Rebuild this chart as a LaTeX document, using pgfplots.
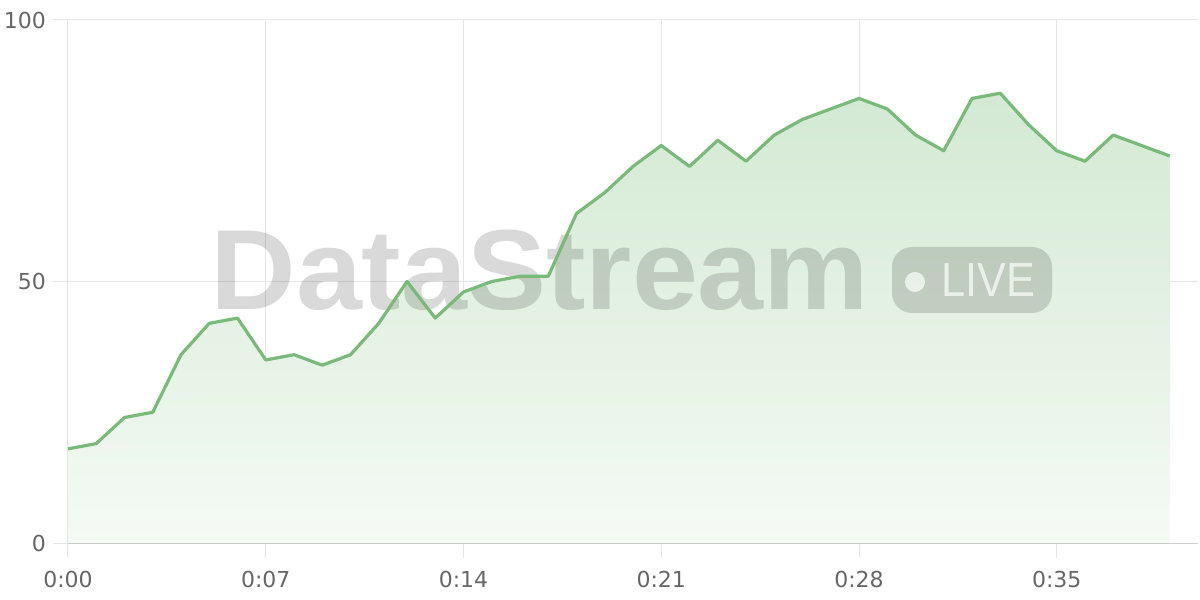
\documentclass[border=0pt]{standalone}
\usepackage{pgfplots}
\pgfplotsset{compat=1.18}
\usetikzlibrary{calc}
\usepackage{fontspec}
\setmainfont{Liberation Sans}
\newfontfamily\tickfont{DejaVu Sans}
\definecolor{linegreen}{HTML}{78BA78}
\definecolor{filltop}{HTML}{D3E9D3}
\definecolor{fillbot}{HTML}{F5FAF5}
\definecolor{gridc}{HTML}{E6E6E6}
\definecolor{axisc}{HTML}{CCCCCC}
\definecolor{labelc}{HTML}{666666}
\begin{document}
\begin{tikzpicture}
\useasboundingbox (-34pt,-28.5pt) rectangle (566pt,271.5pt);
\begin{axis}[
  at={(0,0)}, anchor=south west,
  width=565pt, height=261.5pt, scale only axis,
  xmin=0, xmax=40, ymin=0, ymax=100,
  xtick={0,7,14,21,28,35},
  xticklabels={0:00,0:07,0:14,0:21,0:28,0:35},
  ytick={0,50,100},
  grid=major,
  major grid style={draw=gridc, line width=0.5pt},
  axis line style={draw=none},
  xtick pos=bottom, ytick pos=left,
  tick align=outside,
  major tick length=7.5pt,
  major tick style={draw=gridc, line width=0.5pt},
  tick label style={font=\tickfont\fontsize{11}{13}\selectfont, text=labelc},
  xticklabel style={yshift=-3pt},
  /pgf/number format/assume math mode=true,
]
\addplot[draw=none, top color=filltop, bottom color=fillbot] coordinates {
(0,18)(1,19)(2,24)(3,25)(4,36)(5,42)(6,43)(7,35)(8,36)(9,34)
(10,36)(11,42)(12,50)(13,43)(14,48)(15,50)(16,51)(17,51)(18,63)(19,67)
(20,72)(21,76)(22,72)(23,77)(24,73)(25,78)(26,81)(27,83)(28,85)(29,83)
(30,78)(31,75)(32,85)(33,86)(34,80)(35,75)(36,73)(37,78)(38,76)(39,74)
} \closedcycle;
\draw[axisc, line width=0.5pt] (rel axis cs:0,1) -- (rel axis cs:0,0) -- (rel axis cs:1,0);
\path (axis cs:0,0) ++(71pt,116.5pt) node[anchor=base west, inner sep=0pt, text=black, text opacity=0.15, xscale=1.04, font=\fontsize{57}{60}\selectfont\bfseries] {DataStream};
\fill[black, opacity=0.15, rounded corners=10pt] ($(axis cs:0,0)+(412pt,115pt)$) rectangle ($(axis cs:0,0)+(492pt,148pt)$);
\fill[white, opacity=0.7] ($(axis cs:0,0)+(423.5pt,130.5pt)$) circle (5pt);
\path (axis cs:0,0) ++(436.5pt,123pt) node[anchor=base west, inner sep=0pt, text=white, text opacity=0.7, xscale=0.9, font=\fontsize{24}{26}\selectfont] {LIVE};
\addplot[linegreen, line width=1.6pt, line join=round] coordinates {
(0,18)(1,19)(2,24)(3,25)(4,36)(5,42)(6,43)(7,35)(8,36)(9,34)
(10,36)(11,42)(12,50)(13,43)(14,48)(15,50)(16,51)(17,51)(18,63)(19,67)
(20,72)(21,76)(22,72)(23,77)(24,73)(25,78)(26,81)(27,83)(28,85)(29,83)
(30,78)(31,75)(32,85)(33,86)(34,80)(35,75)(36,73)(37,78)(38,76)(39,74)
};
\end{axis}
\end{tikzpicture}
\end{document}
